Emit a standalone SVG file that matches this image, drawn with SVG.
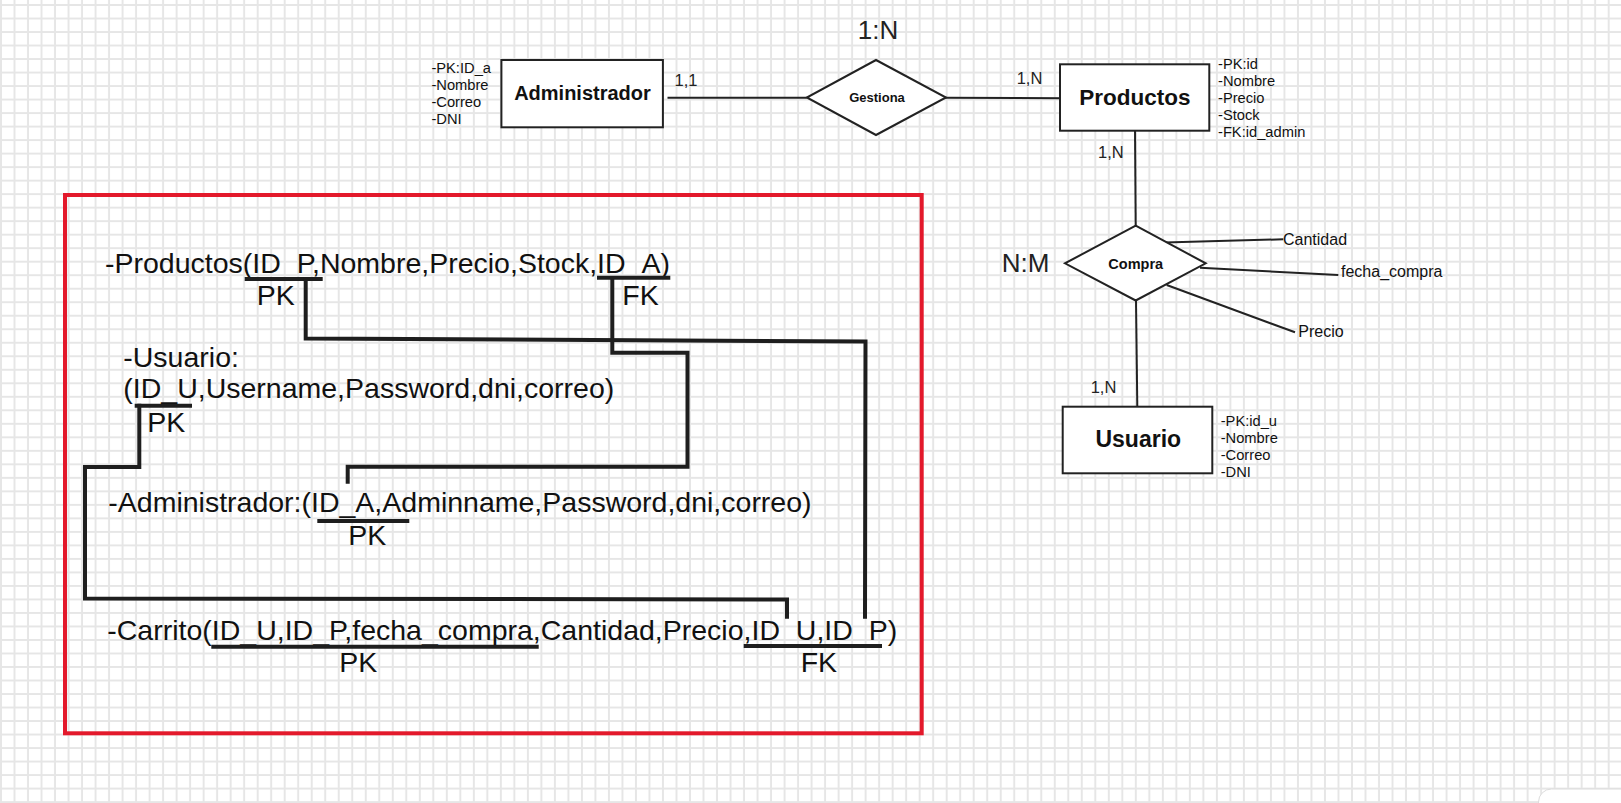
<svg xmlns="http://www.w3.org/2000/svg" width="1621" height="803" viewBox="0 0 1621 803">
<style>
.er{fill:#fff;stroke:#222;stroke-width:2}
.ln{fill:none;stroke:#222;stroke-width:2}
.th{fill:none;stroke:#1e1e1e;stroke-width:4;stroke-linecap:square;stroke-linejoin:miter}
text{font-family:"Liberation Sans",Arial,sans-serif;fill:#111}
.b{font-weight:bold}
.attr{font-size:14.7px}
.card{font-size:16.5px;fill:#222}
.big{font-size:26px;fill:#222}
.rel{font-size:28.5px}
.att2{font-size:16px}
</style>
<defs>
<pattern id="grid" patternUnits="userSpaceOnUse" x="-5.755" y="-1.755" width="13.51" height="13.51">
<path d="M6.755 0V13.51M0 6.755H13.51" stroke="#e6e6e6" stroke-width="2" fill="none"/>
</pattern>
</defs>
<rect width="1621" height="803" fill="#fff"/>
<rect width="1621" height="803" fill="url(#grid)"/>
<rect x="1538.5" y="789" width="120" height="40" rx="13" fill="#fff" stroke="#dcdcdc" stroke-width="1"/>

<g id="connectors">
<path class="ln" d="M667.5 97.7H806.8"/>
<path class="ln" d="M945 97.7L1067 98.3"/>
<path class="ln" d="M1135 128L1135.7 225.7"/>
<path class="ln" d="M1136 300L1137.3 406.7"/>
<path class="ln" d="M1155.7 242.7L1283.3 239.3"/>
<path class="ln" d="M1200 267.7L1338.3 275"/>
<path class="ln" d="M1166.7 285L1295 332.3"/>
</g>

<g id="administrador">
<rect class="er" x="501.4" y="60" width="161.5" height="67.3"/>
<text class="b" x="582.5" y="100" font-size="20" text-anchor="middle">Administrador</text>
</g>
<g id="administrador-attrs">
<text class="attr" x="431.4" y="72.5">-PK:ID_a</text>
<text class="attr" x="431.4" y="89.7">-Nombre</text>
<text class="attr" x="431.4" y="106.9">-Correo</text>
<text class="attr" x="431.4" y="124.1">-DNI</text>
</g>
<g id="gestiona">
<polygon class="er" points="876,60 946,97.5 876,135 806.8,97.5"/>
<text class="b" x="877" y="102" font-size="13" text-anchor="middle">Gestiona</text>
</g>
<g id="productos">
<rect class="er" x="1060" y="64.3" width="149.3" height="66.4"/>
<text class="b" x="1135" y="105" font-size="22.5" text-anchor="middle">Productos</text>
</g>
<g id="productos-attrs">
<text class="attr" x="1218" y="69.3">-PK:id</text>
<text class="attr" x="1218" y="86.1">-Nombre</text>
<text class="attr" x="1218" y="102.9">-Precio</text>
<text class="attr" x="1218" y="119.7">-Stock</text>
<text class="attr" x="1218" y="136.5">-FK:id_admin</text>
</g>
<g id="compra">
<polygon class="er" points="1135.7,225.7 1205.7,263.3 1135.7,300.5 1065,263.3"/>
<text class="b" x="1135.7" y="268.5" font-size="14.5" text-anchor="middle">Compra</text>
</g>
<g id="compra-attrs">
<text class="att2" x="1283" y="244.5">Cantidad</text>
<text class="att2" x="1341" y="277.3">fecha_compra</text>
<text class="att2" x="1298.3" y="336.7">Precio</text>
</g>
<g id="usuario">
<rect class="er" x="1062.7" y="406.7" width="149.6" height="66.6"/>
<text class="b" x="1138.3" y="447.3" font-size="23" text-anchor="middle">Usuario</text>
</g>
<g id="usuario-attrs">
<text class="attr" x="1220.7" y="425.7">-PK:id_u</text>
<text class="attr" x="1220.7" y="443">-Nombre</text>
<text class="attr" x="1220.7" y="460.2">-Correo</text>
<text class="attr" x="1220.7" y="477.4">-DNI</text>
</g>
<g id="cardinalities">
<text class="big" x="878" y="39.3" text-anchor="middle">1:N</text>
<text class="card" x="674.6" y="86">1,1</text>
<text class="card" x="1016.7" y="84">1,N</text>
<text class="card" x="1098" y="158.3">1,N</text>
<text class="card" x="1090.7" y="392.7">1,N</text>
<text class="big" x="1001.7" y="271.7">N:M</text>
</g>

<g id="modelo-relacional">
<rect x="65" y="195" width="856.7" height="538.3" fill="none" stroke="#e3192b" stroke-width="4"/>
<text class="rel" x="105" y="272.7">-Productos(ID_P,Nombre,Precio,Stock,ID_A)</text>
<text class="rel" x="256.7" y="305">PK</text>
<text class="rel" x="622.3" y="305">FK</text>
<text class="rel" x="123.3" y="366.7">-Usuario:</text>
<text class="rel" x="123.3" y="398.3">(ID_U,Username,Password,dni,correo)</text>
<text class="rel" x="147.3" y="431.7">PK</text>
<text class="rel" x="108.3" y="511.7">-Administrador:(ID_A,Adminname,Password,dni,correo)</text>
<text class="rel" x="348.3" y="545">PK</text>
<text class="rel" x="107.3" y="640">-Carrito(ID_U,ID_P,fecha_compra,Cantidad,Precio,ID_U,ID_P)</text>
<text class="rel" x="339.3" y="671.7">PK</text>
<text class="rel" x="800.7" y="671.7">FK</text>
</g>
<g id="relational-links">
<path class="th" d="M246.7 279H320.7"/>
<path class="th" d="M599 277.7H668.3"/>
<path class="th" d="M136.7 405.7H190"/>
<path class="th" d="M319.3 521H407.3"/>
<path class="th" d="M213.3 646.7H536.7"/>
<path class="th" d="M745.7 646H880"/>
<path class="th" d="M305.7 279V338.5L865.5 341.5L865 616.7"/>
<path class="th" d="M612.3 279V352.7H687.5V466.7H347.7V481.7"/>
<path class="th" d="M139.3 405.7V467H85V598.5L787 599.5V616.7"/>
</g>
</svg>
